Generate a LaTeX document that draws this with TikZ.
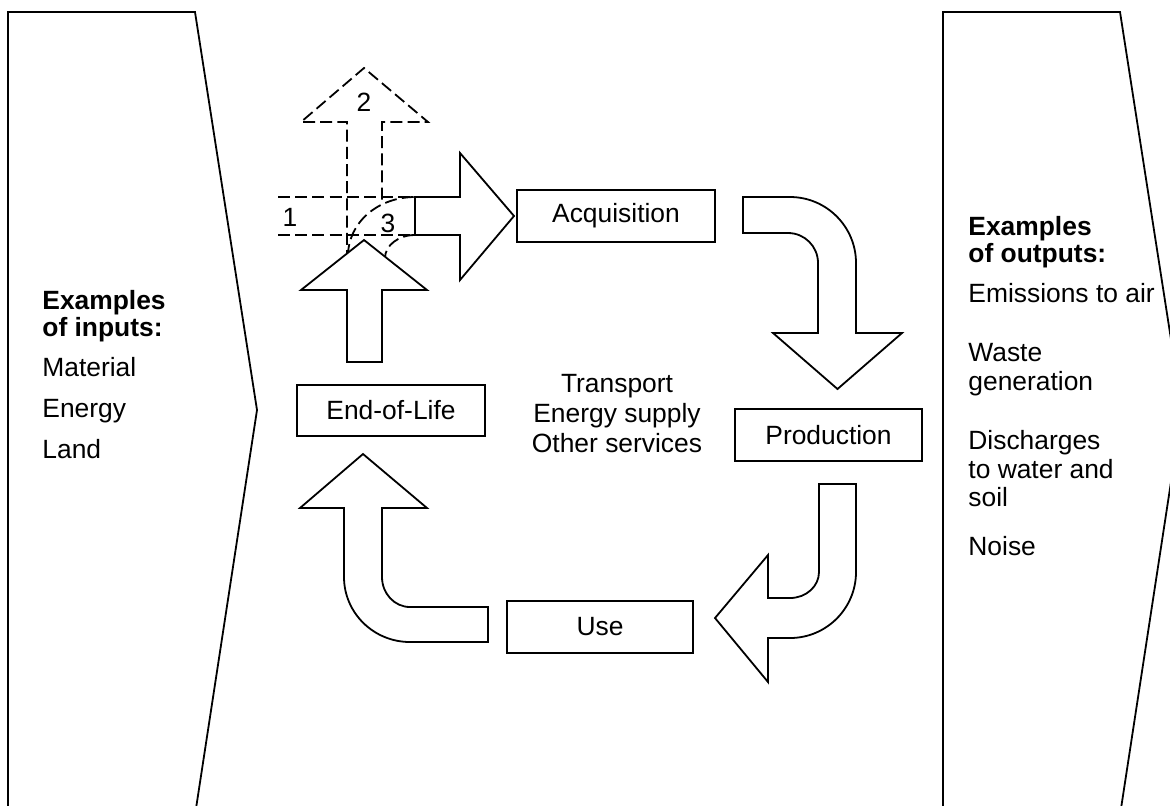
\documentclass[tikz,border=0pt]{standalone}
\usepackage{fontspec}
\setmainfont{Liberation Sans}
\begin{document}
\begin{tikzpicture}[x=0.5pt,y=-0.5pt,
  every node/.style={font=\fontsize{13.2}{15}\selectfont, inner sep=0pt},
  procbox/.style={draw, line width=0.9pt, fill=white, minimum height=26pt},
  panel/.style={draw, line width=0.9pt},
  blockarrow/.style={draw, line width=0.9pt, fill=white, line join=miter},
  dasharrow/.style={draw, line width=0.9pt, dash pattern=on 6pt off 2.6pt},
  txt/.style={anchor=base west},
  ctxt/.style={anchor=base}]
\useasboundingbox (0,0) rectangle (1170,805);
\clip (0,0) rectangle (1170,805);
% side panels
\draw[panel] (8,815) -- (8,12) -- (195,12) -- (257,410) -- (195,815);
\draw[panel] (943,815) -- (943,12) -- (1120,12) -- (1182,410) -- (1120,815);
% left panel text
\node[txt] (in1) at (42,309) {\bfseries Examples};
\node[txt] (in2) at (42,336) {\bfseries of inputs:};
\node[txt] (in3) at (42,376) {Material};
\node[txt] (in4) at (42,417) {Energy};
\node[txt] (in5) at (42,458) {Land};
% right panel text
\node[txt] (out1) at (968,235) {\bfseries Examples};
\node[txt] (out2) at (968,262) {\bfseries of outputs:};
\node[txt] (out3) at (968,302) {Emissions to air};
\node[txt] (out4) at (968,361) {Waste};
\node[txt] (out5) at (968,390) {generation};
\node[txt] (out6) at (968,449) {Discharges};
\node[txt] (out7) at (968,478) {to water and};
\node[txt] (out8) at (968,506) {soil};
\node[txt] (out9) at (968,555) {Noise};
% centre text
\node[ctxt] (c1) at (617,392) {Transport};
\node[ctxt] (c2) at (617,422) {Energy supply};
\node[ctxt] (c3) at (617,452) {Other services};
% process boxes
\node[procbox, minimum width=99pt] (acq) at (616,216) {Acquisition};
\node[procbox, minimum width=93.5pt] (prod) at (828.5,435) {Production};
\node[procbox, minimum width=93pt] (use) at (600,627) {Use};
\node[procbox, minimum width=94pt, minimum height=25.5pt] (eol) at (391,410.5) {End-of-Life};
% curved arrow Acquisition -> Production
\draw[blockarrow] (743,197) -- (790,197) .. controls (826.4,197) and (856,226.6) .. (856,263)
  -- (856,333) -- (902,333) -- (837.5,389) -- (773,333) -- (818,333) -- (818,263)
  .. controls (818,246.4) and (804.6,233) .. (788,233) -- (743,233) -- cycle;
% curved arrow Production -> Use
\draw[blockarrow] (819,484) -- (856,484) -- (856,572) .. controls (856,608.4) and (826.4,638) .. (790,638)
  -- (768,638) -- (768,682) -- (715,618) -- (768,555) -- (768,598) -- (790,598)
  .. controls (806,598) and (819,586.4) .. (819,572) -- cycle;
% curved arrow Use -> End-of-Life
\draw[blockarrow] (488,607) -- (488,642) -- (410,642) .. controls (373.6,642) and (344,612.9) .. (344,577)
  -- (344,508) -- (300,508) -- (363,454) -- (427,508) -- (382,508) -- (382,577)
  .. controls (382,593.6) and (394.5,607) .. (410,607) -- cycle;
% dashed alternatives
\draw[dasharrow] (278,197) -- (415,197);
\draw[dasharrow] (278,235) -- (415,235);
\draw[dasharrow] (347,262) -- (347,122) -- (301,122) -- (364,68) -- (428,122) -- (382,122) -- (382,204);
\draw[dasharrow] (348,256) .. controls (348,222.5) and (378,197) .. (415,197);
\draw[dasharrow] (415,235) .. controls (398.4,235) and (385,245.5) .. (385,258);
\node (l1) at (290,217) {1};
\node (l2) at (364,102) {2};
\node (l3) at (388,223) {3};
% solid arrows
\draw[blockarrow] (415,197) -- (460,197) -- (460,153) -- (514,216) -- (460,280) -- (460,235) -- (415,235) -- cycle;
\draw[blockarrow] (347,362) -- (347,290) -- (301,290) -- (364,240) -- (427,290) -- (382,290) -- (382,362) -- cycle;
\end{tikzpicture}
\end{document}
